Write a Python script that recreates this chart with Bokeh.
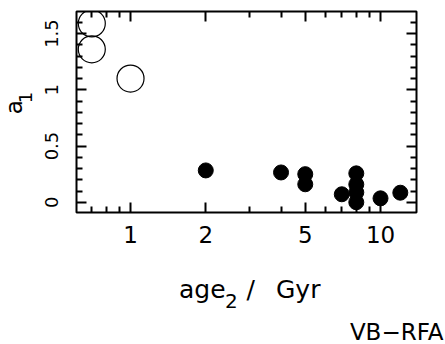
import math
from bokeh.plotting import figure
from bokeh.layouts import column, row
from bokeh.models import (FixedTicker, LogAxis, LinearAxis, PrintfTickFormatter,
                          CustomJSTickFormatter, Range1d)
from bokeh.core.properties import value
from bokeh.embed import file_html
from bokeh.resources import INLINE

# --- data ---
open_age = [0.70, 0.70, 1.0]
open_a1 = [1.59, 1.36, 1.10]

filled_age = [2.0, 4.0, 5.0, 5.0, 7.0, 8.0, 8.0, 8.0, 8.0, 10.0, 12.0]
filled_a1 = [0.283, 0.265, 0.25, 0.16, 0.071, 0.257, 0.159, 0.088, 0.0, 0.035, 0.085]

x_major = [1, 2, 5, 10]
x_minor = [0.7, 0.8, 0.9, 3, 4, 6, 7, 8, 9]
y_major = [0, 0.5, 1, 1.5]
y_minor = [0.1, 0.2, 0.3, 0.4, 0.6, 0.7, 0.8, 0.9, 1.1, 1.2, 1.3, 1.4, 1.6]

x_label_main, x_label_sub, x_label_rest = "age", "2", "/"
x_label_unit = "Gyr"
y_label_main, y_label_sub = "a", "1"
tag = "VB\u2212RFA"

FONT = "DejaVu Sans"
W, H = 445, 344
LEFT_W = 36          # strip holding the y-axis title
TOP_H = 254          # height of the row holding the chart
SHIFT = 8            # measured offset of the lower strip

# ---------------- main chart ----------------
p = figure(width=W - LEFT_W, height=TOP_H, x_axis_type="log",
           x_range=Range1d(0.608, 13.93), y_range=Range1d(-0.091, 1.696),
           output_backend="svg", toolbar_location=None,
           min_border_left=76 - LEFT_W, min_border_right=29, min_border_top=11, min_border_bottom=42,
           background_fill_color="white", border_fill_color="white")
p.grid.visible = False
p.outline_line_color = "black"
p.outline_line_width = 2

xt = FixedTicker(ticks=x_major, minor_ticks=x_minor)
yt = FixedTicker(ticks=y_major, minor_ticks=y_minor)

def style(ax):
    ax.axis_line_color = None
    ax.major_tick_line_color = "black"
    ax.minor_tick_line_color = "black"
    ax.major_tick_line_width = 2
    ax.minor_tick_line_width = 2
    ax.major_tick_in = 10
    ax.major_tick_out = 0
    ax.minor_tick_in = 6
    ax.minor_tick_out = 0

xa = p.xaxis[0]
xa.ticker = xt
xa.formatter = PrintfTickFormatter(format="%d")
style(xa)
xa.major_label_text_font = FONT
xa.major_label_text_font_size = "23px"
xa.major_label_text_color = "black"
xa.major_label_standoff = 13

ya = p.yaxis[0]
ya.ticker = yt
ya.formatter = PrintfTickFormatter(format="%g")
style(ya)
ya.major_label_orientation = "vertical"
ya.major_label_text_font = FONT
ya.major_label_text_font_size = "18px"
ya.major_label_text_color = "black"
ya.major_label_standoff = 18

blank = CustomJSTickFormatter(code="return ''")
top = LogAxis(ticker=xt, formatter=blank, major_label_text_font_size="0px", major_label_standoff=0)
style(top)
p.add_layout(top, "above")
right = LinearAxis(ticker=yt, formatter=blank, major_label_text_font_size="0px", major_label_standoff=0)
style(right)
p.add_layout(right, "right")

p.scatter(open_age, open_a1, marker="circle", size=27, fill_color=None,
          line_color="black", line_width=1.2)
p.scatter(filled_age, filled_a1, marker="circle", size=15, fill_color="black",
          line_color="black")

# ---------------- text strips (pixel-like coordinates) ----------------
def strip(w, h):
    f = figure(width=w, height=h, x_range=Range1d(0, w), y_range=Range1d(0, h),
               output_backend="svg", toolbar_location=None,
               x_axis_location=None, y_axis_location=None, min_border=0,
               background_fill_color="white", border_fill_color="white")
    f.grid.visible = False
    f.outline_line_color = None
    return f

def put(f, h, text, px, py, size, angle=0.0, align="left"):
    f.text(x=[px], y=[h - py], text=[text], text_font=value(FONT), text_font_size=size,
           text_align=align, text_baseline="alphabetic", angle=angle, text_color="black")

# y-axis title a_1 (rotated)
left = strip(LEFT_W, TOP_H)
put(left, TOP_H, y_label_main, 13.5, 130, "23px", angle=math.pi / 2)
put(left, TOP_H, y_label_sub, 25, 116, "18px", angle=math.pi / 2)

# x-axis title age_2 / Gyr and corner tag
BOT_H = H - TOP_H
bottom = strip(W, BOT_H)
def putb(text, px, py, size, align="left"):
    put(bottom, BOT_H, text, px, py - TOP_H - SHIFT, size, align=align)
putb(x_label_main, 178.5, 297, "25px")
putb(x_label_sub, 224.5, 308, "20px")
putb(x_label_rest, 246, 297, "25px")
putb(x_label_unit, 275.5, 297, "25px")
putb(tag, 443, 339, "23px", align="right")

layout = column(row(left, p, spacing=0), bottom, spacing=0)

open("out.html", "w").write(file_html(layout, INLINE))
